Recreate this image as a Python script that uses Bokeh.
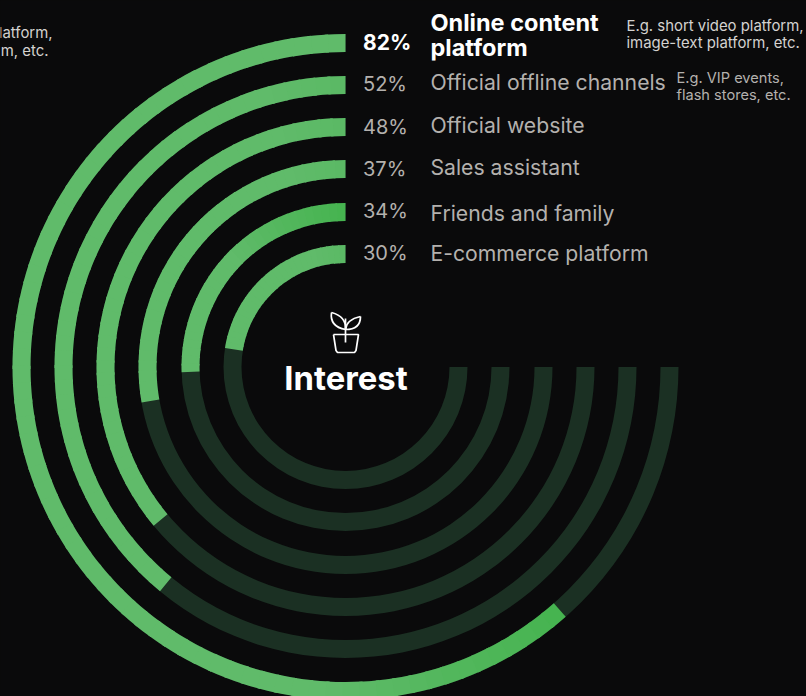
from bokeh.plotting import figure
from bokeh.models import Range1d, ColumnDataSource
from bokeh.embed import file_html
from bokeh.resources import INLINE
from bokeh.core.properties import value
import numpy as np

# ---- chart data ----
categories = ["Online content platform", "Official offline channels", "Official website",
              "Sales assistant", "Friends and family", "E-commerce platform"]
shares = [82, 52, 48, 37, 34, 30]
notes = [["E.g. short video platform,", "image-text platform, etc."],
         ["E.g. VIP events,", "flash stores, etc."]]
title = "Interest"

# ---- styling / layout ----
W, H = 806, 696
BG, TRACK = "#0A0A0B", "#1B3023"
BASE, DEEP = np.array([96, 187, 106]), np.array([70, 180, 80])
CX, CY = 345, H - 366.5
OUTER = [333, 291, 249, 207, 164, 122]
THICK = 18
SWEEP = 270.0   # 100 % of a track


def Y(py):
    return H - py


p = figure(width=W, height=H, output_backend="svg", toolbar_location=None,
           x_range=Range1d(0, W), y_range=Range1d(0, H),
           x_axis_type=None, y_axis_type=None,
           background_fill_color=BG, border_fill_color=BG, min_border=0,
           outline_line_color=None)
p.grid.visible = False

# tracks
p.annular_wedge(x=CX, y=CY, inner_radius=[r - THICK for r in OUTER], outer_radius=OUTER,
                start_angle=90, end_angle=90 + SWEEP, start_angle_units="deg", end_angle_units="deg",
                direction="anticlock", fill_color=TRACK, line_color=None)

# value arcs, painted as short overlapping pieces for the soft gradient
xs = dict(inner=[], outer=[], start=[], end=[], color=[])
for i, (share, r) in enumerate(zip(shares, OUTER)):
    total = share / 100 * SWEEP
    edges = np.linspace(0, total, int(total / 3) + 2)
    for a, b in zip(edges[:-1], edges[1:]):
        mid = (a + b) / 2
        k = 0.0
        if i == 4:                                   # deeper near the head of this ring
            k = max(0, 1 - mid / 45)
        elif i == 0:                                 # deeper near the tail of the longest ring
            k = max(0, 1 - (total - mid) / 45)
        elif i in (1, 2, 3, 5):
            k = 0.2 * max(0, 1 - mid / 15)
        c = BASE + (DEEP - BASE) * k
        xs["inner"].append(r - THICK)
        xs["outer"].append(r)
        xs["start"].append(90 + a)
        xs["end"].append(90 + min(total, b + 0.6))
        xs["color"].append("#%02X%02X%02X" % tuple(int(v) for v in c))
p.annular_wedge(x=CX, y=CY, inner_radius="inner", outer_radius="outer",
                start_angle="start", end_angle="end", start_angle_units="deg", end_angle_units="deg",
                direction="anticlock", fill_color="color", line_color=None, source=ColumnDataSource(xs))

# percentage labels
LABEL_FONT = "Inter"
GREY = "#B4B1AE"
pct_y = [42, 83.5, 126, 168, 210.5, 252.5]
for i, (s, py) in enumerate(zip(shares, pct_y)):
    p.text(x=[362.5], y=[Y(py)], text=[f"{s}%"], text_font=value(LABEL_FONT),
           text_font_size="21px" if i == 0 else "20px", text_font_style="bold" if i == 0 else "normal",
           text_color="#FFFFFF" if i == 0 else GREY, text_baseline="middle", text_align="left")

# category labels
first = categories[0].rsplit(" ", 1)
p.text(x=[430, 430], y=[Y(22), Y(47)], text=first, text_font=value(LABEL_FONT), text_font_size="23.5px",
       text_font_style="bold", text_color="#FFFFFF", text_baseline="middle")
cat_y = [81, 124, 166, 212, 252]
p.text(x=[430] * 5, y=[Y(v) for v in cat_y], text=categories[1:], text_font=value(LABEL_FONT),
       text_font_size="21.2px", text_color=GREY, text_baseline="middle")

# side notes
NOTE_FONT = "Inter"
p.text(x=[626, 626], y=[Y(25), Y(42)], text=notes[0], text_font=value(NOTE_FONT), text_font_size="14.9px",
       text_color="#D4D2D0", text_baseline="middle")
p.text(x=[676, 676], y=[Y(77), Y(94)], text=notes[1], text_font=value(NOTE_FONT), text_font_size="14.6px",
       text_color="#B4B1AE", text_baseline="middle")
# the neighbouring panel's note, cut by the picture's edge
p.text(x=[52, 48], y=[Y(32), Y(50)], text=["latform,", "m, etc."], text_font=value(NOTE_FONT),
       text_font_size="14.9px", text_color="#D4D2D0", text_baseline="middle", text_align="right")

# centre title
p.text(x=[345.5], y=[Y(377)], text=[title], text_font=value(LABEL_FONT), text_font_size="32.8px",
       text_font_style="bold", text_color="#FFFFFF", text_baseline="middle", text_align="center")

# plant-pot icon
ICON = dict(line_color="#FFFFFF", line_width=1.7)
p.line(x=[333, 358, 355.5, 354, 337, 335.5, 333], y=[Y(334), Y(334), Y(350), Y(352), Y(352), Y(350), Y(334)], **ICON)
p.line(x=[345, 345], y=[Y(318), Y(342)], **ICON)
p.quadratic(x0=[345, 331], y0=[Y(329), Y(312)], x1=[331, 345], y1=[Y(312), Y(329)],
            cx=[329, 346], cy=[Y(326), Y(316)], **ICON)
p.quadratic(x0=[345, 360], y0=[Y(329), Y(316)], x1=[360, 345], y1=[Y(316), Y(329)],
            cx=[360, 346], cy=[Y(329), Y(319)], **ICON)

html = file_html(p, INLINE)
html = html.replace("</head>", "<style>html,body{margin:0;padding:0;background:#0A0A0B;overflow:hidden}</style></head>", 1)
open("out.html", "w").write(html)
